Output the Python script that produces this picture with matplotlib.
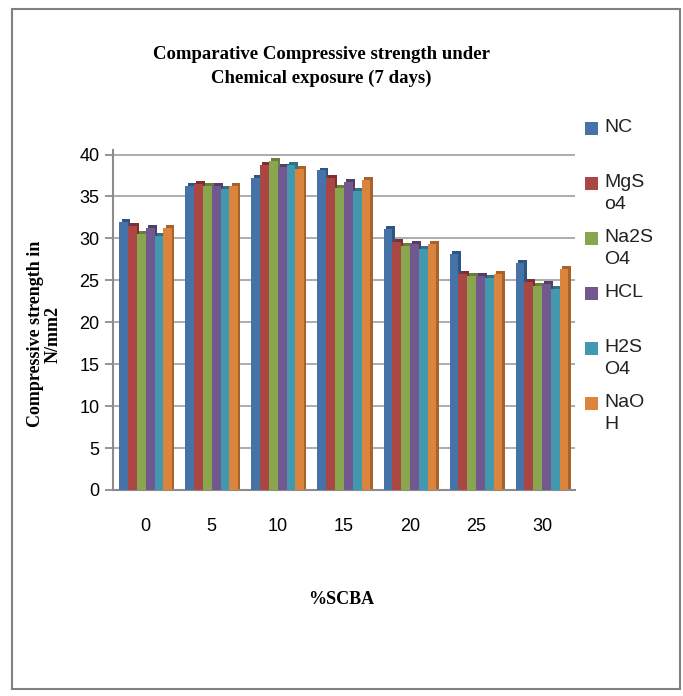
import numpy as np
import matplotlib
matplotlib.use('Agg')
import matplotlib.pyplot as plt
from matplotlib.patches import Rectangle

# Data
groups = ['0', '5', '10', '15', '20', '25', '30']
series = ['NC', 'MgSO4', 'Na2SO4', 'HCL', 'H2SO4', 'NaOH']
legend_labels = ['NC', 'MgS\no4', 'Na2S\nO4', 'HCL', 'H2S\nO4', 'NaO\nH']
nc = [32.0, 36.2, 37.2, 38.1, 31.1, 28.1, 27.1]
mgso4 = [31.5, 36.5, 38.8, 37.2, 29.6, 25.8, 24.8]
na2so4 = [30.5, 36.2, 39.2, 36.0, 29.1, 25.5, 24.3]
hcl = [31.2, 36.2, 38.5, 36.7, 29.3, 25.5, 24.6]
h2so4 = [30.3, 35.9, 38.8, 35.6, 28.7, 25.3, 24.0]
naoh = [31.2, 36.2, 38.3, 37.0, 29.3, 25.8, 26.3]
values = [nc, mgso4, na2so4, hcl, h2so4, naoh]

colors = ['#4572a7', '#aa4643', '#89a54e', '#71588f', '#4198af', '#db843d']
sides = ['#2f5682', '#7f2f2d', '#66803a', '#52406b', '#2e7386', '#a9622a']

fig = plt.figure(figsize=(6.83, 6.96), dpi=100, facecolor='white')
fig.patches.append(Rectangle((0.017, 0.010), 0.978, 0.977, transform=fig.transFigure,
                             fill=False, edgecolor='#808080', linewidth=1.5))

ax = fig.add_axes([0.165, 0.296, 0.677, 0.488])
x = np.arange(len(groups))
n = len(series)
w = 0.8 / n
for i, (vals, c, s) in enumerate(zip(values, colors, sides)):
    xpos = x - 0.4 + w * (i + 0.5)
    # darker side/top to fake the 3D look
    ax.bar(xpos + w * 0.25, np.array(vals) + 0.35, width=w, color=s, zorder=2)
    ax.bar(xpos, vals, width=w, color=c, zorder=3)

ax.set_xlim(-0.5, len(groups) - 0.5)
ax.set_ylim(0, 40.5)
ax.set_yticks(range(0, 41, 5))
ax.set_xticks(x)
ax.set_xticklabels(groups)
ax.yaxis.grid(True, color='#a6a6a6', linewidth=1.3, zorder=0)
ax.set_axisbelow(True)
for sp in ['top', 'right']:
    ax.spines[sp].set_visible(False)
ax.spines['left'].set_color('#8c8c8c')
ax.spines['bottom'].set_color('#8c8c8c')
ax.spines['left'].set_linewidth(1.5)
ax.spines['bottom'].set_linewidth(1.5)
ax.tick_params(axis='y', labelsize=13, colors='#8c8c8c', labelcolor='black', length=6, width=1.3)
ax.tick_params(axis='x', labelsize=13, length=0, pad=20)
for lbl in ax.get_xticklabels() + ax.get_yticklabels():
    lbl.set_family('Liberation Sans')

fig.text(0.47, 0.905, 'Comparative Compressive strength under\nChemical exposure (7 days)',
         ha='center', va='center', fontsize=13.5, fontweight='bold', family='Liberation Serif',
         linespacing=1.5)
fig.text(0.065, 0.52, 'Compressive strength in\nN/mm2', rotation=90, ha='center', va='center',
         fontsize=13, fontweight='bold', family='Liberation Serif', linespacing=1.1)
fig.text(0.5, 0.138, '%SCBA', ha='center', va='center', fontsize=13, fontweight='bold',
         family='Liberation Serif')

# legend drawn by hand to keep the wrapped labels and spacing
for i, (lab, c) in enumerate(zip(legend_labels, colors)):
    ytop = 1 - (128 + 55 * i) / 696
    fig.patches.append(Rectangle((0.857, ytop - 0.010), 0.019, 0.018, transform=fig.transFigure,
                                 facecolor=c, edgecolor='none'))
    fig.text(0.885, ytop + 0.013, lab, ha='left', va='top', fontsize=14, family='Liberation Sans',
             linespacing=1.4, color='#222222')

fig.savefig('out.png', dpi=100, facecolor='white')
